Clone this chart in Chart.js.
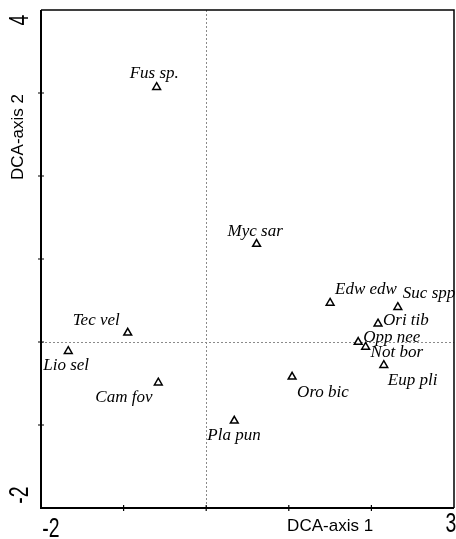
<!DOCTYPE html>
<html>
<head>
<meta charset="utf-8">
<script src="https://cdn.jsdelivr.net/npm/chart.js@4.4.0/dist/chart.umd.min.js"></script>
<style>
  html, body { margin: 0; padding: 0; background: #fff; overflow: hidden; }
  #wrap { width: 456px; height: 539px; }
</style>
</head>
<body>
<div id="wrap"><canvas id="dca"></canvas></div>
<script>
// --- datos DCA ---
const especies = ['Fus sp.', 'Tec vel', 'Lio sel', 'Cam fov', 'Pla pun', 'Myc sar', 'Edw edw',
                  'Suc spp', 'Ori tib', 'Opp nee', 'Not bor', 'Eup pli', 'Oro bic'];
const eje1 = [-0.60, -0.95, -1.67, -0.58, 0.34, 0.61, 1.50, 2.32, 2.08, 1.84, 1.93, 2.15, 1.04];
const eje2 = [3.07, 0.11, -0.11, -0.49, -0.95, 1.18, 0.47, 0.42, 0.22, 0.00, -0.06, -0.28, -0.42];

const xRange = [-2, 3];
const yRange = [-2, 4];
const xTickLabels = ['-2', '3'];
const yTickLabels = ['4', '-2'];
const xTitle = 'DCA-axis 1';
const yTitle = 'DCA-axis 2';

// desplazamiento de cada etiqueta respecto a su triángulo (px)
const offsetEtiqueta = {
  'Fus sp.': [-27, -9], 'Tec vel': [-55, -8], 'Lio sel': [-25, 19], 'Cam fov': [-63, 19],
  'Pla pun': [-27, 19], 'Myc sar': [-29, -8], 'Edw edw': [5, -9], 'Suc spp': [5, -9],
  'Ori tib': [5, 1], 'Opp nee': [5, 0], 'Not bor': [5, 10], 'Eup pli': [4, 20], 'Oro bic': [5, 20]
};

const puntos = especies.map((n, i) => ({ x: eje1[i], y: eje2[i], nombre: n }));

// texto estrecho (los números del original son altos y angostos)
function textoEstrecho(ctx, txt, cx, cy, rot, size) {
  ctx.save();
  ctx.translate(cx, cy);
  ctx.rotate(rot);
  ctx.scale(0.72, 1);
  ctx.font = size + 'px "Liberation Sans", Arial, sans-serif';
  ctx.textAlign = 'center';
  ctx.textBaseline = 'middle';
  ctx.fillText(txt, 0, 0);
  ctx.restore();
}

// Plugin: marco, ejes con marcas, líneas de cero y etiquetas
const ordenacionPlugin = {
  id: 'ordenacion',
  beforeDatasetsDraw(chart) {
    const { ctx, chartArea: a, scales: { x, y } } = chart;
    ctx.save();
    // líneas punteadas en 0
    ctx.strokeStyle = '#8a8a8a';
    ctx.lineWidth = 1;
    ctx.setLineDash([2, 2]);
    const x0 = Math.round(x.getPixelForValue(0)) + 0.5;
    const y0 = Math.round(y.getPixelForValue(0)) + 0.5;
    ctx.beginPath();
    ctx.moveTo(x0, a.top); ctx.lineTo(x0, a.bottom);
    ctx.moveTo(a.left, y0); ctx.lineTo(a.right, y0);
    ctx.stroke();
    ctx.setLineDash([]);

    // marco
    ctx.strokeStyle = '#000';
    ctx.lineWidth = 1.5;
    ctx.beginPath();
    ctx.moveTo(a.left, a.top); ctx.lineTo(a.right, a.top); ctx.lineTo(a.right, a.bottom);
    ctx.stroke();
    ctx.lineWidth = 2;
    ctx.beginPath();
    ctx.moveTo(a.left, a.top); ctx.lineTo(a.left, a.bottom); ctx.lineTo(a.right, a.bottom);
    ctx.stroke();

    // marcas de ticks
    ctx.lineWidth = 1.2;
    ctx.beginPath();
    for (let v = xRange[0] + 1; v < xRange[1]; v++) {
      const px = x.getPixelForValue(v);
      ctx.moveTo(px, a.bottom - 3); ctx.lineTo(px, a.bottom + 3);
    }
    for (let v = yRange[0] + 1; v < yRange[1]; v++) {
      const py = y.getPixelForValue(v);
      ctx.moveTo(a.left - 3, py); ctx.lineTo(a.left + 3, py);
    }
    ctx.stroke();

    // textos de ejes
    ctx.fillStyle = '#000';
    textoEstrecho(ctx, xTickLabels[0], x.getPixelForValue(xRange[0]) + 10, a.bottom + 22, 0, 27);
    textoEstrecho(ctx, xTickLabels[1], x.getPixelForValue(xRange[1]) - 3, a.bottom + 17, 0, 27);
    textoEstrecho(ctx, yTickLabels[0], 21, y.getPixelForValue(yRange[1]) + 10, -Math.PI / 2, 27);
    textoEstrecho(ctx, yTickLabels[1], 21, y.getPixelForValue(yRange[0]) - 13, -Math.PI / 2, 27);

    ctx.font = '17px "Liberation Sans", Arial, sans-serif';
    ctx.textAlign = 'center';
    ctx.textBaseline = 'middle';
    ctx.fillText(xTitle, x.getPixelForValue(1.5), a.bottom + 18);

    ctx.save();
    ctx.translate(18, y.getPixelForValue(3) + 44);
    ctx.rotate(-Math.PI / 2);
    ctx.fillText(yTitle, 0, 0);
    ctx.restore();
    ctx.restore();
  },
  afterDatasetsDraw(chart) {
    const { ctx } = chart;
    const meta = chart.getDatasetMeta(0);
    ctx.save();
    ctx.fillStyle = '#000';
    ctx.font = 'italic 17px "Liberation Serif", "Times New Roman", serif';
    ctx.textAlign = 'left';
    ctx.textBaseline = 'alphabetic';
    meta.data.forEach((el, i) => {
      const nombre = puntos[i].nombre;
      const off = offsetEtiqueta[nombre] || [5, 0];
      ctx.fillText(nombre, el.x + off[0], el.y + off[1]);
    });
    ctx.restore();
  }
};

const ctx = document.getElementById('dca').getContext('2d');
new Chart(ctx, {
  type: 'scatter',
  data: {
    datasets: [{
      label: 'especies',
      data: puntos,
      pointStyle: 'triangle',
      pointRadius: 4.5,
      pointHoverRadius: 4.5,
      pointBackgroundColor: '#fff',
      pointBorderColor: '#000',
      pointBorderWidth: 1.5
    }]
  },
  options: {
    responsive: true,
    maintainAspectRatio: false,
    animation: false,
    layout: { autoPadding: false, padding: { left: 41, top: 10, right: 2, bottom: 31 } },
    plugins: { legend: { display: false }, tooltip: { enabled: false } },
    scales: {
      x: { type: 'linear', min: xRange[0], max: xRange[1], display: false },
      y: { type: 'linear', min: yRange[0], max: yRange[1], display: false }
    }
  },
  plugins: [ordenacionPlugin]
});
</script>
</body>
</html>
